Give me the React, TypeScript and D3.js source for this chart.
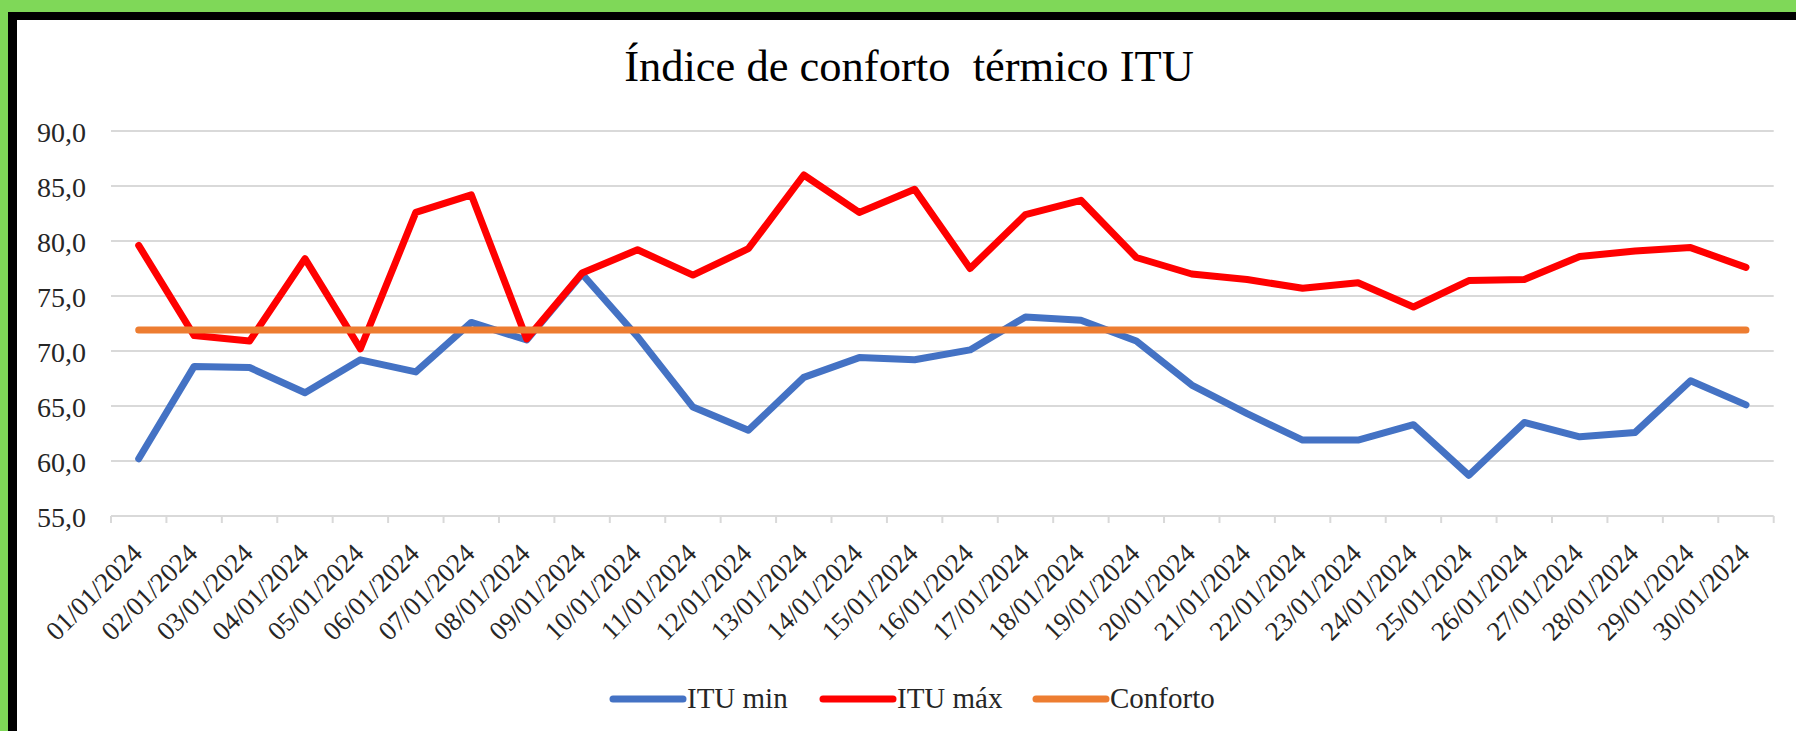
import React, { useEffect, useRef } from 'react';
import * as d3 from 'd3';

const dates = [
  '01/01/2024', '02/01/2024', '03/01/2024', '04/01/2024', '05/01/2024',
  '06/01/2024', '07/01/2024', '08/01/2024', '09/01/2024', '10/01/2024',
  '11/01/2024', '12/01/2024', '13/01/2024', '14/01/2024', '15/01/2024',
  '16/01/2024', '17/01/2024', '18/01/2024', '19/01/2024', '20/01/2024',
  '21/01/2024', '22/01/2024', '23/01/2024', '24/01/2024', '25/01/2024',
  '26/01/2024', '27/01/2024', '28/01/2024', '29/01/2024', '30/01/2024',
];

const ituMin = [
  60.2, 68.6, 68.5, 66.2, 69.2, 68.1, 72.6, 71.0, 77.0, 71.3,
  64.9, 62.8, 67.6, 69.4, 69.2, 70.1, 73.1, 72.8, 70.9, 66.9,
  64.3, 61.9, 61.9, 63.3, 58.7, 63.5, 62.2, 62.6, 67.3, 65.1,
];

const ituMax = [
  79.6, 71.4, 70.9, 78.4, 70.2, 82.6, 84.2, 71.1, 77.1, 79.2,
  76.9, 79.3, 86.0, 82.6, 84.7, 77.5, 82.4, 83.7, 78.5, 77.0,
  76.5, 75.7, 76.2, 74.0, 76.4, 76.5, 78.6, 79.1, 79.4, 77.6,
];

const conforto = dates.map(() => 71.9);

const yTicks = [55, 60, 65, 70, 75, 80, 85, 90];

const series = [
  { name: 'ITU min', values: ituMin, color: '#4472c4' },
  { name: 'ITU máx', values: ituMax, color: '#ff0000' },
  { name: 'Conforto', values: conforto, color: '#ed7d31' },
];

const W = 1796;
const H = 731;
const font = "'Liberation Serif', 'Times New Roman', serif";

const App = () => {
  const ref = useRef(null);

  useEffect(() => {
    const svg = d3.select(ref.current);
    svg.selectAll('*').remove();

    // frame: green band + black line, top and left only
    svg.append('rect').attr('width', W).attr('height', H).attr('fill', '#fff');
    svg.append('rect').attr('width', W).attr('height', 12).attr('fill', '#7fd858');
    svg.append('rect').attr('width', 8).attr('height', H).attr('fill', '#7fd858');
    svg.append('rect').attr('x', 8).attr('y', 12).attr('width', W - 8).attr('height', 8).attr('fill', '#000');
    svg.append('rect').attr('x', 8).attr('y', 12).attr('width', 9).attr('height', H - 12).attr('fill', '#000');

    const x = d3.scaleBand().domain(dates).range([111, 1773.7]);
    const y = d3.scaleLinear().domain([55, 90]).range([516, 131]);

    svg.append('text')
      .attr('x', 909)
      .attr('y', 81)
      .attr('text-anchor', 'middle')
      .attr('font-family', font)
      .attr('font-size', 44.5)
      .attr('fill', '#000')
      .style('white-space', 'pre')
      .text('Índice de conforto  térmico ITU');

    // gridlines
    svg.append('g')
      .selectAll('line')
      .data(yTicks)
      .enter()
      .append('line')
      .attr('x1', 111)
      .attr('x2', 1773.7)
      .attr('y1', d => y(d))
      .attr('y2', d => y(d))
      .attr('stroke', '#d9d9d9')
      .attr('stroke-width', 2);

    svg.append('g')
      .selectAll('text')
      .data(yTicks)
      .enter()
      .append('text')
      .attr('x', 86)
      .attr('y', d => y(d) + 11)
      .attr('text-anchor', 'end')
      .attr('font-family', font)
      .attr('font-size', 28)
      .attr('fill', '#262626')
      .text(d => d3.format('.1f')(d).replace('.', ','));

    // category ticks at band edges
    const edges = dates.map(d => x(d)).concat([x.range()[1]]);
    svg.append('g')
      .selectAll('line')
      .data(edges)
      .enter()
      .append('line')
      .attr('x1', d => d)
      .attr('x2', d => d)
      .attr('y1', 516)
      .attr('y2', 523)
      .attr('stroke', '#d9d9d9')
      .attr('stroke-width', 2);

    const cx = d => x(d) + x.bandwidth() / 2;

    svg.append('g')
      .selectAll('text')
      .data(dates)
      .enter()
      .append('text')
      .attr('transform', d => `translate(${cx(d) + 5},555) rotate(-45)`)
      .attr('text-anchor', 'end')
      .attr('font-family', font)
      .attr('font-size', 27)
      .attr('fill', '#262626')
      .text(d => d);

    const line = d3.line()
      .x((v, i) => cx(dates[i]))
      .y(v => y(v));

    series.forEach(s => {
      svg.append('path')
        .datum(s.values)
        .attr('d', line)
        .attr('fill', 'none')
        .attr('stroke', s.color)
        .attr('stroke-width', 7)
        .attr('stroke-linejoin', 'round')
        .attr('stroke-linecap', 'round');
    });

    // legend
    const legendX = [613, 823, 1036];
    series.forEach((s, i) => {
      const g = svg.append('g').attr('transform', `translate(${legendX[i]},699)`);
      g.append('line')
        .attr('x1', 0)
        .attr('x2', 70)
        .attr('stroke', s.color)
        .attr('stroke-width', 7)
        .attr('stroke-linecap', 'round');
      g.append('text')
        .attr('x', 74)
        .attr('y', 9)
        .attr('font-family', font)
        .attr('font-size', 29)
        .attr('fill', '#262626')
        .text(s.name);
    });
  }, []);

  return (
    <svg
      ref={ref}
      width={W}
      height={H}
      style={{ position: 'absolute', left: 0, top: 0, display: 'block' }}
    />
  );
};

export default App;
